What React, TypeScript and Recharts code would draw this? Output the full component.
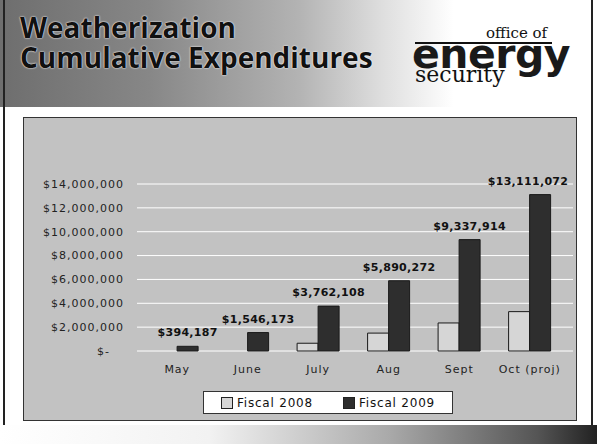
import React from 'react';
import { BarChart, Bar, XAxis, YAxis, CartesianGrid, LabelList, Legend } from 'recharts';

const categories = ['May', 'June', 'July', 'Aug', 'Sept', 'Oct (proj)'];
const fiscal2008 = [0, 0, 650000, 1500000, 2350000, 3300000];
const fiscal2009 = [394187, 1546173, 3762108, 5890272, 9337914, 13111072];
const yTicks = [0, 2000000, 4000000, 6000000, 8000000, 10000000, 12000000, 14000000];
const seriesNames = ['Fiscal 2008', 'Fiscal 2009'];

const data = categories.map((c, i) => ({ name: c, f2008: fiscal2008[i], f2009: fiscal2009[i] }));

const money = (v: number) => '$' + v.toLocaleString('en-US');

const C2008 = '#d6d6d6';
const C2009 = '#2e2e2e';
const STROKE = '#1a1a1a';

const YTick = (props: any) => {
  const { x, y, payload } = props;
  const v = payload.value;
  const isZero = v === 0;
  return (
    <text
      x={isZero ? x - 14 : x}
      y={y}
      dy="0.355em"
      textAnchor="end"
      fill="#222"
      style={{ fontFamily: 'DejaVu Sans', fontSize: 11, letterSpacing: 1 }}
    >
      {isZero ? '$-' : money(v)}
    </text>
  );
};

const TopLabel = (props: any) => {
  const { x, y, width, value } = props;
  const cx = Math.min(x + width / 2, 504);
  return (
    <text
      x={cx}
      y={y - 10}
      textAnchor="middle"
      fill="#111"
      style={{ fontFamily: 'DejaVu Sans', fontWeight: 'bold', fontSize: 11, letterSpacing: 0.3 }}
    >
      {money(value)}
    </text>
  );
};

const LegendBox = () => (
  <div
    style={{
      width: 248,
      height: 21,
      background: '#fff',
      border: '1px solid #333',
      display: 'flex',
      alignItems: 'center',
      justifyContent: 'center',
      gap: 30,
      fontFamily: 'DejaVu Sans',
      fontSize: 12,
      letterSpacing: 0.8,
      color: '#111',
      boxSizing: 'content-box',
    }}
  >
    {seriesNames.map((n, i) => (
      <div key={n} style={{ display: 'flex', alignItems: 'center', gap: 4 }}>
        <div
          style={{
            width: 10,
            height: 10,
            background: i === 0 ? C2008 : C2009,
            border: '1px solid #222',
          }}
        />
        <span>{n}</span>
      </div>
    ))}
  </div>
);

const titleLine: React.CSSProperties = {
  position: 'absolute',
  left: 20,
  fontFamily: 'Open Sans',
  fontWeight: 700,
  fontSize: 28,
  lineHeight: '28px',
  color: '#111',
  textShadow: '0 0 1px #fff, 0 0 2px #fff',
  whiteSpace: 'nowrap',
};

export default function App() {
  return (
    <div
      style={{
        position: 'fixed',
        left: 0,
        top: 0,
        width: 597,
        height: 444,
        background: '#fff',
        overflow: 'hidden',
      }}
    >
      {/* title band */}
      <div
        style={{
          position: 'absolute',
          left: 0,
          top: 0,
          width: 597,
          height: 107,
          background:
            'linear-gradient(90deg, #6e6e6e 0%, #878787 25%, #b3b3b3 50%, #dedede 64%, #ffffff 76%)',
        }}
      />
      <div style={{ ...titleLine, top: 13 }}>Weatherization</div>
      <div style={{ ...titleLine, top: 43 }}>Cumulative Expenditures</div>
      {/* logo */}
      <div
        style={{
          position: 'absolute',
          left: 486,
          top: 25,
          fontFamily: 'DejaVu Serif',
          fontSize: 15,
          lineHeight: '16px',
          color: '#111',
          whiteSpace: 'nowrap',
        }}
      >
        office of
      </div>
      <div style={{ position: 'absolute', left: 415, top: 42, width: 137, height: 2, background: '#111' }} />
      <div
        style={{
          position: 'absolute',
          left: 412,
          top: 31,
          fontFamily: 'DejaVu Sans',
          fontWeight: 'bold',
          fontSize: 41,
          lineHeight: '46px',
          letterSpacing: -0.5,
          color: '#1a1a1a',
          whiteSpace: 'nowrap',
        }}
      >
        energy
      </div>
      <div
        style={{
          position: 'absolute',
          left: 415,
          top: 63,
          fontFamily: 'DejaVu Serif',
          fontSize: 22,
          lineHeight: '24px',
          color: '#111',
          whiteSpace: 'nowrap',
        }}
      >
        security
      </div>

      {/* slide borders */}
      <div style={{ position: 'absolute', left: 3, top: 0, width: 2, height: 444, background: '#222' }} />
      <div style={{ position: 'absolute', left: 591, top: 0, width: 2, height: 444, background: '#222' }} />
      <div
        style={{
          position: 'absolute',
          left: 0,
          top: 425,
          width: 597,
          height: 19,
          background: 'linear-gradient(90deg, #ffffff 0%, #f2f2f2 35%, #aaaaaa 65%, #555555 90%, #222222 100%)',
        }}
      />

      {/* chart */}
      <div
        style={{
          position: 'absolute',
          left: 24,
          top: 118,
          width: 552,
          height: 302,
          background: '#c2c2c2',
          outline: '1px solid #333',
        }}
      >
        <BarChart
          width={552}
          height={302}
          data={data}
          margin={{ top: 66, right: 3, left: 0, bottom: 39 }}
          barCategoryGap="20%"
          barGap={0}
        >
          <CartesianGrid vertical={false} stroke="#ffffff" strokeWidth={1} />
          <XAxis
            dataKey="name"
            height={30}
            padding={{ left: 5, right: 8 }}
            axisLine={false}
            tickLine={false}
            tickSize={0}
            tickMargin={14}
            interval={0}
            tick={{ fill: '#222', fontFamily: 'DejaVu Sans', fontSize: 11, letterSpacing: 1 } as any}
          />
          <YAxis
            width={113}
            domain={[0, 14000000]}
            ticks={yTicks}
            interval={0}
            axisLine={false}
            tickLine={false}
            tickSize={0}
            tickMargin={13}
            tick={<YTick />}
          />
          <Legend
            layout="horizontal"
            verticalAlign="middle"
            align="center"
            wrapperStyle={{ left: 179, top: 273, width: 250 }}
            content={() => <LegendBox />}
          />
          <Bar dataKey="f2008" name={seriesNames[0]} fill={C2008} stroke={STROKE} strokeWidth={1} isAnimationActive={false} />
          <Bar dataKey="f2009" name={seriesNames[1]} fill={C2009} stroke={STROKE} strokeWidth={1} isAnimationActive={false}>
            <LabelList dataKey="f2009" content={<TopLabel />} />
          </Bar>
        </BarChart>
      </div>
    </div>
  );
}
